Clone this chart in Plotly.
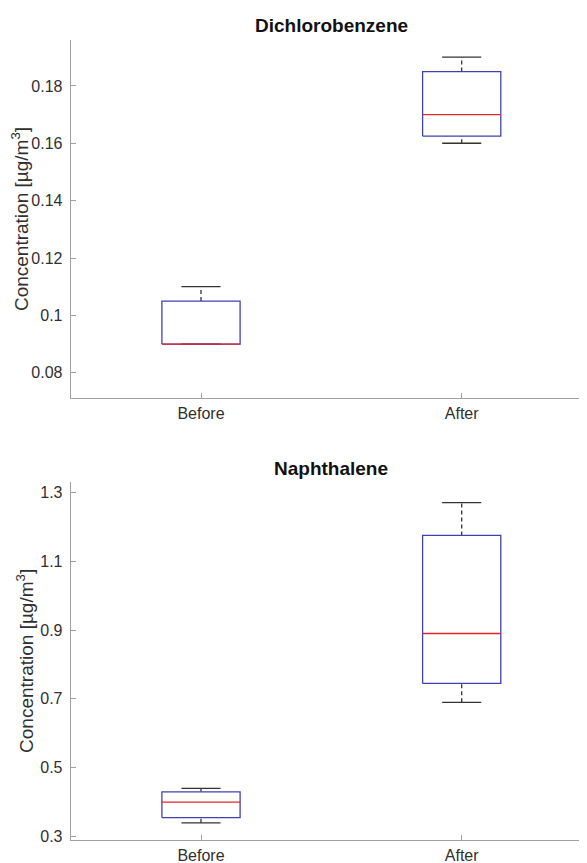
import plotly.graph_objects as go

# ---- data ----
groups = ["Before", "After"]
positions = [1, 2]

dcb_min = [0.09, 0.16]
dcb_q1 = [0.09, 0.1625]
dcb_med = [0.09, 0.17]
dcb_q3 = [0.105, 0.185]
dcb_max = [0.11, 0.19]
dcb_ticks = [0.08, 0.10, 0.12, 0.14, 0.16, 0.18]
dcb_ticktext = ["0.08", "0.1", "0.12", "0.14", "0.16", "0.18"]

nap_min = [0.34, 0.69]
nap_q1 = [0.355, 0.745]
nap_med = [0.40, 0.89]
nap_q3 = [0.43, 1.175]
nap_max = [0.44, 1.27]
nap_ticks = [0.3, 0.5, 0.7, 0.9, 1.1, 1.3]
nap_ticktext = ["0.3", "0.5", "0.7", "0.9", "1.1", "1.3"]

titles = ["Dichlorobenzene", "Naphthalene"]
ylabel = "Concentration [µg/m<sup>3</sup>]"

# ---- style ----
# the page body has an 8px margin, so the figure is placed at (8, 8)
OFF = 8
W, H = 587 - OFF, 863 - OFF
BOX_W = 0.3
CAP_W = 0.15
BLUE = "#4040b0"
RED = "#e02828"
WHISK = "#333333"
AXC = "#a0a0a0"
TXT = "#303030"
FONT = "Arial, Liberation Sans, sans-serif"
LW = 1.3

x_left_px = 70.7 - OFF
before_px = 201.0 - OFF
after_px = 461.7 - OFF
panels = [
    dict(top=40, bottom=398, yr=[0.0712, 0.196], data=(dcb_min, dcb_q1, dcb_med, dcb_q3, dcb_max),
         ticks=dcb_ticks, ticktext=dcb_ticktext, title_y=26),
    dict(top=481.7, bottom=840, yr=[0.29, 1.331], data=(nap_min, nap_q1, nap_med, nap_q3, nap_max),
         ticks=nap_ticks, ticktext=nap_ticktext, title_y=468),
]

fig = go.Figure()
layout = dict(
    width=W, height=H, margin=dict(l=0, r=0, t=0, b=0, autoexpand=False),
    paper_bgcolor="white", plot_bgcolor="white", showlegend=False,
    font=dict(family=FONT, color=TXT, size=16),
    annotations=[],
)


def seg(xs, ys, color, xa, ya, dash=None):
    fig.add_trace(go.Scatter(x=xs, y=ys, mode="lines",
                             line=dict(color=color, width=LW, dash=dash),
                             xaxis=xa, yaxis=ya, hoverinfo="skip"))


for i, p in enumerate(panels):
    xa = "x" if i == 0 else f"x{i+1}"
    ya = "y" if i == 0 else f"y{i+1}"
    mn, q1, md, q3, mx = p["data"]
    for j, pos in enumerate(positions):
        hw = BOX_W / 2
        cw = CAP_W / 2
        if mx[j] > q3[j]:
            seg([pos, pos], [q3[j], mx[j]], WHISK, xa, ya, "4px,3px")
        if q1[j] > mn[j]:
            seg([pos, pos], [mn[j], q1[j]], WHISK, xa, ya, "4px,3px")
        seg([pos - cw, pos + cw], [mx[j], mx[j]], WHISK, xa, ya)
        seg([pos - cw, pos + cw], [mn[j], mn[j]], WHISK, xa, ya)
        seg([pos - hw, pos + hw, pos + hw, pos - hw, pos - hw],
            [q1[j], q1[j], q3[j], q3[j], q1[j]], BLUE, xa, ya)
        seg([pos - hw, pos + hw], [md[j], md[j]], RED, xa, ya)

    px_per_unit = after_px - before_px
    x0 = positions[0] - (before_px - x_left_px) / px_per_unit
    x1 = positions[0] + (W - before_px) / px_per_unit
    xkey = "xaxis" if i == 0 else f"xaxis{i+1}"
    ykey = "yaxis" if i == 0 else f"yaxis{i+1}"
    top = p["top"] - OFF
    bottom = p["bottom"] - OFF
    layout[xkey] = dict(
        domain=[x_left_px / W, 1], anchor=ya, range=[x0, x1], automargin=False,
        tickvals=positions, ticktext=groups, ticks="inside", ticklen=5, tickcolor=AXC,
        showline=True, linecolor=AXC, linewidth=1, showgrid=False, zeroline=False,
        tickfont=dict(size=16, color=TXT, family=FONT), ticklabelstandoff=1, fixedrange=True,
    )
    layout[ykey] = dict(
        domain=[(H - bottom) / H, (H - top) / H], anchor=xa, range=p["yr"],
        automargin=False,
        tickvals=p["ticks"], ticktext=p["ticktext"], ticks="inside", ticklen=5, tickcolor=AXC,
        showline=True, linecolor=AXC, linewidth=1, showgrid=False, zeroline=False,
        tickfont=dict(size=16, color=TXT, family=FONT), ticklabelstandoff=4,
        title=dict(text=ylabel, font=dict(size=19, color=TXT, family=FONT), standoff=1),
        fixedrange=True,
    )
    layout["annotations"].append(dict(
        text=f"<b>{titles[i]}</b>", x=(x_left_px + 592 - OFF) / 2 / W, y=(H - (p["title_y"] - OFF)) / H,
        xref="paper", yref="paper", xanchor="center", yanchor="middle", showarrow=False,
        font=dict(size=19, color="#111111", family=FONT),
    ))

fig.update_layout(**layout)
fig.write_html("out.html")
